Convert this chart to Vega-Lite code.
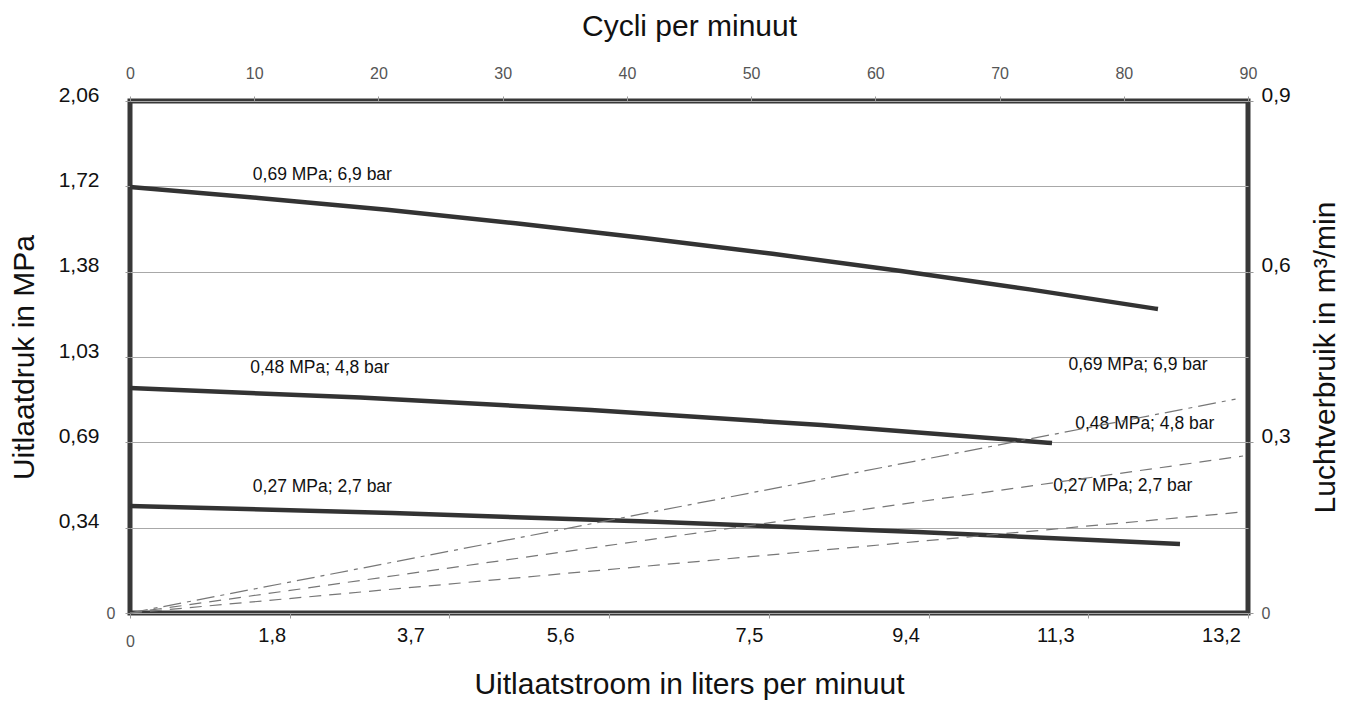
{
  "$schema": "https://vega.github.io/schema/vega-lite/v6.json",
  "width": 1118,
  "height": 512,
  "autosize": "none",
  "padding": {"left": 130, "top": 101, "right": 107, "bottom": 96},
  "background": "white",
  "config": {
    "view": {"stroke": "#383838", "strokeWidth": 5},
    "font": "Liberation Sans",
    "axis": {"titleFont": "Liberation Sans", "labelFont": "Liberation Sans", "titleFontWeight": "normal", "titleColor": "#111", "labelColor": "#111", "domain": false, "tickColor": "#999", "tickSize": 5, "tickWidth": 1}
  },
  "datasets": {
    "pressure": [
      {"series": "a", "flow": 0, "mpa": 1.714},
      {"series": "a", "flow": 1.517, "mpa": 1.67},
      {"series": "a", "flow": 3.034, "mpa": 1.622},
      {"series": "a", "flow": 4.552, "mpa": 1.568},
      {"series": "a", "flow": 6.069, "mpa": 1.509},
      {"series": "a", "flow": 7.586, "mpa": 1.445},
      {"series": "a", "flow": 9.103, "mpa": 1.376},
      {"series": "a", "flow": 10.62, "mpa": 1.302},
      {"series": "a", "flow": 12.137, "mpa": 1.223},
      {"series": "b", "flow": 0, "mpa": 0.905},
      {"series": "b", "flow": 2.721, "mpa": 0.867},
      {"series": "b", "flow": 5.443, "mpa": 0.817},
      {"series": "b", "flow": 8.164, "mpa": 0.756},
      {"series": "b", "flow": 10.886, "mpa": 0.684},
      {"series": "c", "flow": 0, "mpa": 0.431},
      {"series": "c", "flow": 3.099, "mpa": 0.402},
      {"series": "c", "flow": 6.199, "mpa": 0.367},
      {"series": "c", "flow": 9.298, "mpa": 0.326},
      {"series": "c", "flow": 12.397, "mpa": 0.278}
    ],
    "air": [
      {"series": "6,9 bar", "cycles": 0, "m3": 0},
      {"series": "6,9 bar", "cycles": 89.0, "m3": 0.376},
      {"series": "4,8 bar", "cycles": 0, "m3": 0},
      {"series": "4,8 bar", "cycles": 89.6, "m3": 0.276},
      {"series": "2,7 bar", "cycles": 0, "m3": 0},
      {"series": "2,7 bar", "cycles": 89.8, "m3": 0.178}
    ],
    "labels": [
      {"label": "0,69 MPa; 6,9 bar", "flow": 1.45, "mpa": 1.762},
      {"label": "0,48 MPa; 4,8 bar", "flow": 1.42, "mpa": 0.986},
      {"label": "0,27 MPa; 2,7 bar", "flow": 1.45, "mpa": 0.507},
      {"label": "0,69 MPa; 6,9 bar", "flow": 11.08, "mpa": 0.998},
      {"label": "0,48 MPa; 4,8 bar", "flow": 11.16, "mpa": 0.76},
      {"label": "0,27 MPa; 2,7 bar", "flow": 10.9, "mpa": 0.511}
    ]
  },
  "layer": [
    {
      "data": {"name": "pressure"},
      "layer": [
        {
          "mark": {"type": "line", "color": "#333333", "strokeWidth": 4.5, "interpolate": "monotone", "strokeCap": "butt"},
          "encoding": {
            "x": {"field": "flow", "type": "quantitative", "scale": {"domain": [0, 13.2], "nice": false, "zero": false},
              "axis": {"orient": "bottom", "grid": false,
                "values": [0, 1.8857142857, 3.7714285714, 5.6571428571, 7.5428571429, 9.4285714286, 11.3142857143, 13.2],
                "labelExpr": "['0','1,8','3,7','5,6','7,5','9,4','11,3','13,2'][round(datum.value*7/13.2)]",
                "labelFontSize": {"condition": {"test": "datum.value < 0.1", "value": 16}, "value": 20},
                "labelColor": {"condition": {"test": "datum.value < 0.1", "value": "#555555"}, "value": "#111111"},
                "labelPadding": {"condition": {"test": "datum.value < 0.1", "value": 15}, "value": 7},
                "labelOffset": {"condition": [
                  {"test": "round(datum.value*7/13.2)==1", "value": -18},
                  {"test": "round(datum.value*7/13.2)==2", "value": -39},
                  {"test": "round(datum.value*7/13.2)==3", "value": -49},
                  {"test": "round(datum.value*7/13.2)==4", "value": -20},
                  {"test": "round(datum.value*7/13.2)==5", "value": -23},
                  {"test": "round(datum.value*7/13.2)==6", "value": -33},
                  {"test": "round(datum.value*7/13.2)==7", "value": -27}
                ], "value": 0},
                "labelFlush": false,
                "title": "Uitlaatstroom in liters per minuut", "titleFontSize": 30, "titlePadding": 20}},
            "y": {"field": "mpa", "type": "quantitative", "scale": {"domain": [0, 2.06], "nice": false, "zero": false},
              "axis": {"orient": "left", "grid": true, "gridColor": "#a8a8a8", "gridWidth": 1,
                "values": [0, 0.3433333, 0.6866667, 1.03, 1.3733333, 1.7166667, 2.06],
                "labelExpr": "['0','0,34','0,69','1,03','1,38','1,72','2,06'][round(datum.value/0.3433333)]",
                "labelFontSize": {"condition": {"test": "datum.value < 0.1", "value": 16}, "value": 21},
                "labelColor": {"condition": {"test": "datum.value < 0.1", "value": "#555555"}, "value": "#111111"},
                "labelPadding": {"condition": {"test": "datum.value < 0.1", "value": 10}, "value": 26},
                "labelBaseline": {"condition": {"test": "datum.value < 0.1", "value": "middle"}, "value": "alphabetic"},
                "labelFlush": false,
                "title": "Uitlaatdruk in MPa", "titleFontSize": 30, "titlePadding": 19}},
            "detail": {"field": "series"}
          }
        },
        {
          "data": {"name": "labels"},
          "mark": {"type": "text", "align": "left", "baseline": "middle", "font": "Liberation Sans", "fontSize": 17.5, "color": "#111"},
          "encoding": {
            "x": {"field": "flow", "type": "quantitative"},
            "y": {"field": "mpa", "type": "quantitative"},
            "text": {"field": "label"}
          }
        }
      ]
    },
    {
      "data": {"name": "air"},
      "mark": {"type": "line", "color": "#777777", "strokeWidth": 1.2},
      "encoding": {
        "x": {"field": "cycles", "type": "quantitative", "scale": {"domain": [0, 90], "nice": false},
          "axis": {"orient": "top", "grid": false, "values": [0, 10, 20, 30, 40, 50, 60, 70, 80, 90],
            "labelFontSize": 16, "labelColor": "#555555", "labelPadding": 15, "labelFlush": false,
            "title": "Cycli per minuut", "titleFontSize": 30, "titlePadding": 24}},
        "y": {"field": "m3", "type": "quantitative", "scale": {"domain": [0, 0.9], "nice": false},
          "axis": {"orient": "right", "grid": false, "values": [0, 0.3, 0.6, 0.9],
            "labelExpr": "replace(format(datum.value, '.1~f'), '.', ',')",
            "labelFontSize": {"condition": {"test": "datum.value < 0.01", "value": 16}, "value": 21},
            "labelColor": {"condition": {"test": "datum.value < 0.01", "value": "#555555"}, "value": "#111111"},
            "labelBaseline": {"condition": {"test": "datum.value < 0.01", "value": "middle"}, "value": "alphabetic"},
            "labelPadding": 8, "labelFlush": false,
            "title": "Luchtverbruik in m³/min", "titleFontSize": 30, "titleAngle": 270, "titlePadding": 50}},
        "strokeDash": {"field": "series", "type": "nominal", "legend": null,
          "scale": {"domain": ["6,9 bar", "4,8 bar", "2,7 bar"], "range": [[18, 6, 4, 6], [12, 8], [12, 8]]}}
      }
    }
  ],
  "resolve": {"scale": {"x": "independent", "y": "independent"}, "axis": {"x": "independent", "y": "independent"}}
}
